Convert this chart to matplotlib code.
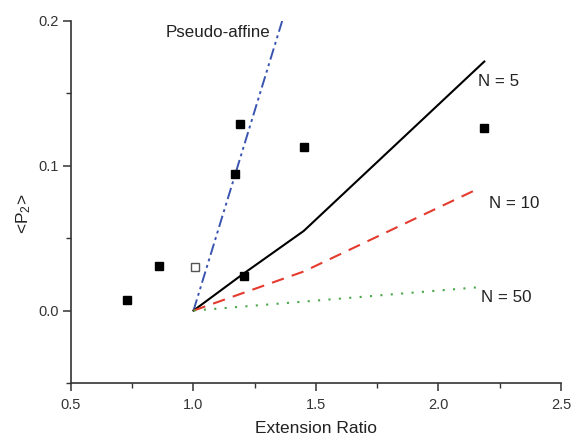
import matplotlib
matplotlib.use("Agg")
import matplotlib.pyplot as plt
from matplotlib.ticker import MultipleLocator, FormatStrFormatter

plt.rcParams["font.family"] = ["Liberation Sans", "DejaVu Sans"]
plt.rcParams["mathtext.fontset"] = "custom"
plt.rcParams["mathtext.rm"] = "Liberation Sans"
plt.rcParams["mathtext.it"] = "Liberation Sans"

# Experimental data (filled squares)
exp_x = [0.73, 0.86, 1.17, 1.19, 1.206, 1.45, 2.187]
exp_y = [0.007, 0.031, 0.094, 0.129, 0.024, 0.113, 0.126]
# Open square
open_x = [1.005]
open_y = [0.030]

# Model curves
affine_x = [1.0, 1.362]
affine_y = [0.0, 0.200]
n5_x = [1.0, 1.2, 1.45, 2.187]
n5_y = [0.0, 0.025, 0.055, 0.172]
n10_x = [1.0, 1.45, 2.16]
n10_y = [0.0, 0.027, 0.084]
n50_x = [1.0, 1.45, 2.162]
n50_y = [0.0, 0.0062, 0.0161]

labels = ["Pseudo-affine", "N = 5", "N = 10", "N = 50"]
label_x = [0.885, 2.16, 2.205, 2.172]
label_y = [0.192, 0.158, 0.0738, 0.0092]

fig = plt.figure(figsize=(5.71, 4.37), dpi=100)
ax = fig.add_axes([0.1243, 0.1236, 0.8582, 0.8284])

ax.plot(affine_x, affine_y, color="#3a55b0", lw=1.4, ls=(0, (6, 2, 1.5, 2, 1.5, 2)))
ax.plot(n5_x, n5_y, color="black", lw=1.5)
ax.plot(n10_x, n10_y, color="#e53a2e", lw=1.5, ls=(0, (6, 4)))
ax.plot(n50_x, n50_y, color="#4aa84a", lw=1.5, ls=(0, (1, 4)))

ax.plot(exp_x, exp_y, ls="none", marker="s", ms=6, color="black")
ax.plot(open_x, open_y, ls="none", marker="s", ms=5.5, mfc="white", mec="#555555", mew=1.0)

for t, x, y in zip(labels, label_x, label_y):
    ax.text(x, y, t, fontsize=12.2, color="#222222", ha="left", va="center")

ax.set_xlim(0.5, 2.5)
ax.set_ylim(-0.05, 0.2)
ax.xaxis.set_major_locator(MultipleLocator(0.5))
ax.xaxis.set_minor_locator(MultipleLocator(0.25))
ax.yaxis.set_major_locator(MultipleLocator(0.1))
ax.yaxis.set_minor_locator(MultipleLocator(0.05))
ax.xaxis.set_major_formatter(FormatStrFormatter("%.1f"))
ax.yaxis.set_major_formatter(FormatStrFormatter("%.1f"))

for s in ["top", "right"]:
    ax.spines[s].set_visible(False)
for s in ["left", "bottom"]:
    ax.spines[s].set_color("#333333")
    ax.spines[s].set_linewidth(1.2)

ax.tick_params(which="major", direction="out", length=6, width=1.1, color="#333333",
               labelsize=10.5, labelcolor="#333333", pad=5)
ax.tick_params(axis="y", which="major", pad=2.5)
ax.tick_params(which="minor", direction="out", length=3.5, width=1.0, color="#333333")

ax.set_xlabel("Extension Ratio", fontsize=12.5, color="#222222", labelpad=6)
ax.set_ylabel(r"<P$_2$>", fontsize=12.5, color="#222222")
ax.yaxis.set_label_coords(-0.078, 0.467)

fig.savefig("out.png", dpi=100)
